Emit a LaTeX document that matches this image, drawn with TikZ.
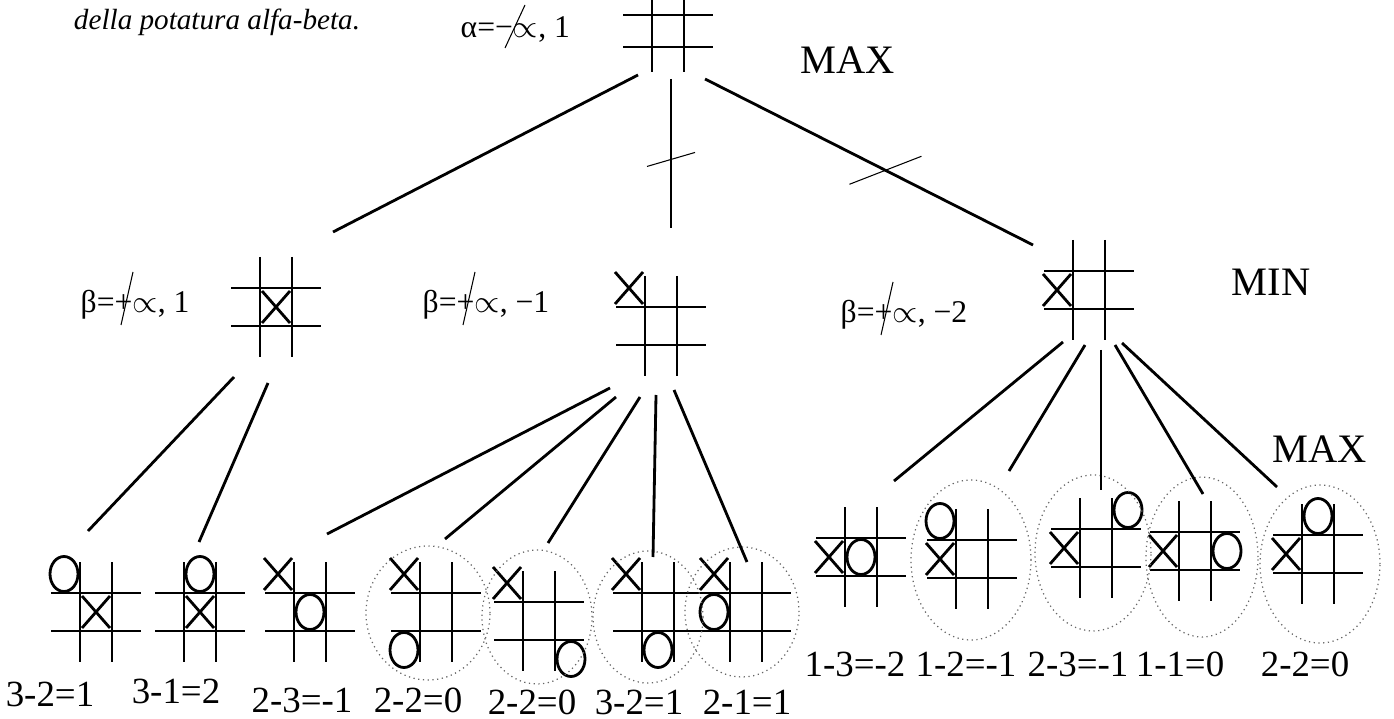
\documentclass[tikz,border=0pt]{standalone}
\usepackage{fontspec}
\setmainfont{Liberation Serif}
\usetikzlibrary{positioning, calc}

% tic-tac-toe board: [half gap of the rows] name, x, y
\newcommand{\board}[4][19]{%
  \node[board] (#2) at (#3,#4) {};
  \draw[gridline] ($(#2.north)+(-16,0)$) -- ($(#2.south)+(-16,0)$)
                  ($(#2.north)+(16,0)$) -- ($(#2.south)+(16,0)$)
                  ($(#2.west)+(0,-#1)$) -- ($(#2.east)+(0,-#1)$)
                  ($(#2.west)+(0,#1)$) -- ($(#2.east)+(0,#1)$);
}
% marks: board, column, row (-1,0,1)
\newcommand{\xcell}[3]{%
  \draw[gridline] ($(#1)+({#2*32-14},{#3*38-16})$) -- ($(#1)+({#2*32+14},{#3*38+16})$)
                  ($(#1)+({#2*32-14},{#3*38+16})$) -- ($(#1)+({#2*32+14},{#3*38-16})$);
}
\newcommand{\ocell}[3]{%
  \draw[gridline] ($(#1)+({#2*32},{#3*38})$) ellipse [x radius=1.4mm, y radius=1.75mm];
}

\begin{document}
\begin{tikzpicture}[x=0.1mm, y=-0.1mm,
    gridline/.style={line width=0.8pt},
    link/.style={line width=0.8pt},
    cut/.style={line width=0.3pt},
    halo/.style={densely dotted, line width=0.35pt, black!60},
    board/.style={minimum width=9mm, minimum height=10mm, inner sep=0pt, outer sep=0pt},
    level/.style={font=\fontsize{11.5}{13}\selectfont},
    bound/.style={font=\fontsize{9}{11}\selectfont, inner sep=0pt, anchor=west},
    score/.style={font=\fontsize{10.5}{12}\selectfont}]

    \useasboundingbox (0,0) rectangle (1394,719);

    \node[font=\itshape\fontsize{8.3}{10}\selectfont] (caption) at (217,22) {della potatura alfa-beta.};

    % ================= root (MAX) =================
    \begin{scope}[board/.append style={minimum height=8.2mm}]
        \board[16]{root}{668}{31}
    \end{scope}
    \node[level] (max1) at (848,60) {MAX};
    \node[bound] (alpha) at (460,30) {α=−$\propto$, 1};
    \draw[cut] ($(alpha.west)+(65,-25)$) -- ($(alpha.west)+(45,18)$);

    % ================= MIN level =================
    \board{left}{276}{307}
    \xcell{left}{0}{0}
    \board{mid}{661}{326}
    \xcell{mid}{-1}{-1}
    \board{right}{1089}{290}
    \xcell{right}{-1}{0}

    \node[bound] (beta1) at (80,305) {β=+$\propto$, 1};
    \node[bound] (beta2) at (422,305) {β=+$\propto$, −1};
    \node[bound] (beta3) at (840,315) {β=+$\propto$, −2};
    \foreach \b in {beta1, beta2, beta3}
        \draw[cut] ($(\b.west)+(53,-33)$) -- ($(\b.west)+(41,20)$);
    \node[level] (min) at (1271,282) {MIN};

    % root edges, two of them cut off
    \draw[link] ($(root.south)+(-30,3)$) -- ($(left.north)+(57,-25)$);
    \draw[link] ($(root.south)+(3,7)$) -- ($(mid.north)+(10,-48)$) coordinate[pos=0.54] (cutm);
    \draw[link] ($(root.south)+(37,7)$) -- ($(right.north west)+(-11,5)$) coordinate[pos=0.55] (cutr);
    \draw[cut] ($(cutm)+(-24,7)$) -- ($(cutm)+(24,-7)$);
    \draw[cut] ($(cutr)+(-36,14)$) -- ($(cutr)+(36,-14)$);

    % ================= leaves =================
    \board{g1}{96}{612}    \ocell{g1}{-1}{-1}  \xcell{g1}{0}{0}
    \board{g2}{200}{612}   \ocell{g2}{0}{-1}   \xcell{g2}{0}{0}
    \board{g3}{310}{612}   \xcell{g3}{-1}{-1}  \ocell{g3}{0}{0}
    \board{g4}{436}{612}   \xcell{g4}{-1}{-1}  \ocell{g4}{-1}{1}
    \board{g5}{539}{621}   \xcell{g5}{-1}{-1}  \ocell{g5}{1}{1}
    \board{g6}{658}{612}   \xcell{g6}{-1}{-1}  \ocell{g6}{0}{1}
    \board{g7}{746}{612}   \xcell{g7}{-1}{-1}  \ocell{g7}{-1}{0}
    \board{g8}{861}{557}   \xcell{g8}{-1}{0}   \ocell{g8}{0}{0}
    \board{g9}{972}{559}   \ocell{g9}{-1}{-1}  \xcell{g9}{-1}{0}
    \board{g10}{1096}{548} \ocell{g10}{1}{-1}  \xcell{g10}{-1}{0}
    \board{g11}{1195}{551} \xcell{g11}{-1}{0}  \ocell{g11}{1}{0}
    \board{g12}{1318}{554} \ocell{g12}{0}{-1}  \xcell{g12}{-1}{0}
    \node[level] (max2) at (1320,449) {MAX};

    % pruned leaves
    \draw[halo] ($(g4)+(-8,1)$) ellipse [x radius=6.2mm, y radius=6.7mm];
    \draw[halo] ($(g5)+(-2,-4)$) ellipse [x radius=5.5mm, y radius=6.7mm];
    \draw[halo] ($(g6)+(-10,5)$) ellipse [x radius=5.5mm, y radius=6.6mm];
    \draw[halo] ($(g7)+(-4,0)$) ellipse [x radius=5.7mm, y radius=6.5mm];
    \draw[halo] ($(g9)+(-1,1)$) ellipse [x radius=6.0mm, y radius=8.0mm];
    \draw[halo] ($(g10)+(-3,5)$) ellipse [x radius=5.8mm, y radius=7.8mm];
    \draw[halo] ($(g11)+(7,6)$) ellipse [x radius=5.6mm, y radius=8.0mm];
    \draw[halo] ($(g12)+(2,10)$) ellipse [x radius=6.0mm, y radius=7.9mm];

    % left subtree
    \draw[link] ($(left.south)+(-42,20)$) -- ($(g1.north)+(-8,-31)$);
    \draw[link] ($(left.south)+(-8,26)$) -- ($(g2.north)+(-1,-20)$);
    % middle subtree
    \draw[link] ($(mid.south)+(-51,12)$) -- ($(g3.north)+(17,-28)$);
    \draw[link] ($(mid.south)+(-45,21)$) -- ($(g4.north)+(9,-23)$);
    \draw[link] ($(mid.south)+(-21,21)$) -- ($(g5.north)+(9,-28)$);
    \draw[link] ($(mid.south)+(-5,19)$) -- ($(g6.north)+(-5,-5)$);
    \draw[link] ($(mid.south)+(13,14)$) -- ($(g7.north)+(1,0)$);
    % right subtree
    \draw[link] ($(right.south)+(-26,2)$) -- ($(g8.north)+(33,-26)$);
    \draw[link] ($(right.south)+(-4,5)$) -- ($(g9.north)+(37,-38)$);
    \draw[link] ($(right.south)+(12,10)$) -- ($(g10.north)+(5,-8)$);
    \draw[link] ($(right.south)+(26,5)$) -- ($(g11.north)+(8,-7)$);
    \draw[link] ($(right.south)+(33,3)$) -- ($(g12.north)+(-41,-17)$);

    % scores
    \node[score] (s1) at (50,694) {3-2=1};
    \node[score] (s2) at (176,691) {3-1=2};
    \node[score] (s3) at (302,700) {2-3=-1};
    \node[score] (s4) at (418,700) {2-2=0};
    \node[score] (s5) at (532,702) {2-2=0};
    \node[score] (s6) at (639,702) {3-2=1};
    \node[score] (s7) at (747,702) {2-1=1};
    \node[score] (s8) at (855,664) {1-3=-2};
    \node[score] (s9) at (966,664) {1-2=-1};
    \node[score] (s10) at (1078,664) {2-3=-1};
    \node[score] (s11) at (1180,664) {1-1=0};
    \node[score] (s12) at (1305,664) {2-2=0};

\end{tikzpicture}
\end{document}
